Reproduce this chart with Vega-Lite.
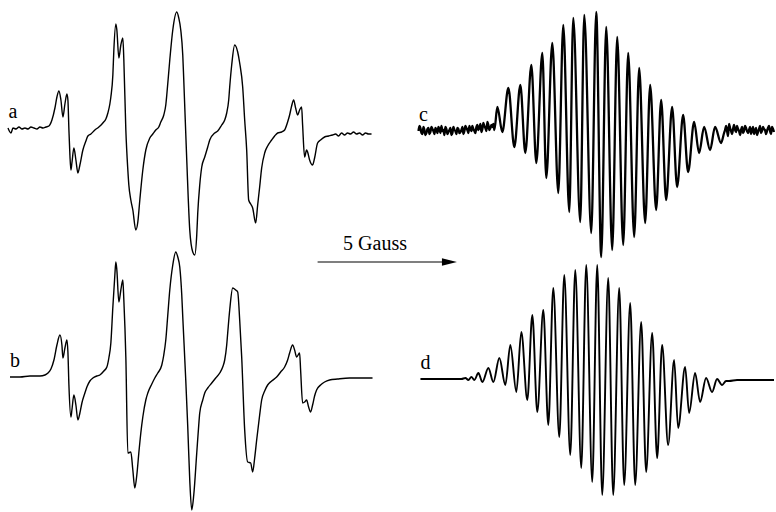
{
  "$schema": "https://vega.github.io/schema/vega-lite/v6.json",
  "width": 776,
  "height": 512,
  "autosize": {"type": "fit", "contains": "padding"},
  "padding": 0,
  "background": "white",
  "config": {"view": {"stroke": null}},
  "datasets": {
    "spectra": [
      {"s":"a","x":8,"y":128},{"s":"a","x":11,"y":133},{"s":"a","x":13,"y":128},{"s":"a","x":16,"y":129},{"s":"a","x":19,"y":127},{"s":"a","x":22,"y":129},{"s":"a","x":25,"y":128},{"s":"a","x":28,"y":129},{"s":"a","x":31,"y":127},{"s":"a","x":34,"y":128},{"s":"a","x":37,"y":129},{"s":"a","x":40,"y":127},{"s":"a","x":43,"y":128},{"s":"a","x":46,"y":127},{"s":"a","x":49,"y":126},{"s":"a","x":52,"y":120},{"s":"a","x":55,"y":108},{"s":"a","x":57,"y":97},{"s":"a","x":59,"y":91},{"s":"a","x":61,"y":100},{"s":"a","x":63,"y":117},{"s":"a","x":65,"y":104},{"s":"a","x":67,"y":94},{"s":"a","x":68,"y":100},{"s":"a","x":69,"y":130},{"s":"a","x":70,"y":155},{"s":"a","x":71,"y":170},{"s":"a","x":72,"y":163},{"s":"a","x":74,"y":148},{"s":"a","x":76,"y":160},{"s":"a","x":78,"y":173},{"s":"a","x":80,"y":165},{"s":"a","x":83,"y":150},{"s":"a","x":86,"y":141},{"s":"a","x":88,"y":136},{"s":"a","x":91,"y":134},{"s":"a","x":95,"y":130},{"s":"a","x":99,"y":127},{"s":"a","x":103,"y":123},{"s":"a","x":106,"y":119},{"s":"a","x":108,"y":113},{"s":"a","x":110,"y":104},{"s":"a","x":111,"y":97},{"s":"a","x":113,"y":75},{"s":"a","x":114,"y":50},{"s":"a","x":116,"y":24},{"s":"a","x":117,"y":30},{"s":"a","x":119,"y":58},{"s":"a","x":121,"y":45},{"s":"a","x":123,"y":38},{"s":"a","x":124,"y":60},{"s":"a","x":126,"y":130},{"s":"a","x":128,"y":170},{"s":"a","x":129,"y":185},{"s":"a","x":131,"y":200},{"s":"a","x":133,"y":210},{"s":"a","x":136,"y":230},{"s":"a","x":138,"y":222},{"s":"a","x":140,"y":200},{"s":"a","x":143,"y":170},{"s":"a","x":146,"y":150},{"s":"a","x":150,"y":138},{"s":"a","x":153,"y":134},{"s":"a","x":156,"y":130},{"s":"a","x":159,"y":127},{"s":"a","x":161,"y":122},{"s":"a","x":164,"y":115},{"s":"a","x":166,"y":105},{"s":"a","x":167,"y":95},{"s":"a","x":170,"y":60},{"s":"a","x":173,"y":30},{"s":"a","x":177,"y":12},{"s":"a","x":179,"y":18},{"s":"a","x":181,"y":30},{"s":"a","x":183,"y":55},{"s":"a","x":184,"y":80},{"s":"a","x":187,"y":160},{"s":"a","x":190,"y":230},{"s":"a","x":193,"y":252},{"s":"a","x":195,"y":255},{"s":"a","x":197,"y":235},{"s":"a","x":198,"y":213},{"s":"a","x":200,"y":185},{"s":"a","x":202,"y":167},{"s":"a","x":205,"y":157},{"s":"a","x":208,"y":147},{"s":"a","x":210,"y":140},{"s":"a","x":215,"y":133},{"s":"a","x":218,"y":131},{"s":"a","x":222,"y":125},{"s":"a","x":225,"y":120},{"s":"a","x":227,"y":113},{"s":"a","x":229,"y":100},{"s":"a","x":230,"y":87},{"s":"a","x":232,"y":65},{"s":"a","x":235,"y":45},{"s":"a","x":238,"y":52},{"s":"a","x":240,"y":63},{"s":"a","x":243,"y":87},{"s":"a","x":245,"y":120},{"s":"a","x":247,"y":150},{"s":"a","x":249,"y":200},{"s":"a","x":251,"y":204},{"s":"a","x":253,"y":208},{"s":"a","x":256,"y":223},{"s":"a","x":258,"y":205},{"s":"a","x":260,"y":187},{"s":"a","x":262,"y":168},{"s":"a","x":265,"y":153},{"s":"a","x":268,"y":146},{"s":"a","x":272,"y":140},{"s":"a","x":275,"y":136},{"s":"a","x":278,"y":133},{"s":"a","x":282,"y":132},{"s":"a","x":285,"y":130},{"s":"a","x":288,"y":122},{"s":"a","x":290,"y":115},{"s":"a","x":292,"y":106},{"s":"a","x":294,"y":100},{"s":"a","x":296,"y":108},{"s":"a","x":298,"y":115},{"s":"a","x":300,"y":110},{"s":"a","x":302,"y":107},{"s":"a","x":303,"y":125},{"s":"a","x":305,"y":157},{"s":"a","x":307,"y":150},{"s":"a","x":308,"y":152},{"s":"a","x":310,"y":160},{"s":"a","x":313,"y":165},{"s":"a","x":315,"y":158},{"s":"a","x":318,"y":143},{"s":"a","x":321,"y":140},{"s":"a","x":325,"y":137},{"s":"a","x":329,"y":136},{"s":"a","x":333,"y":135},{"s":"a","x":336,"y":134},{"s":"a","x":339,"y":136},{"s":"a","x":342,"y":133},{"s":"a","x":345,"y":135},{"s":"a","x":348,"y":133},{"s":"a","x":351,"y":134},{"s":"a","x":354,"y":132},{"s":"a","x":357,"y":134},{"s":"a","x":360,"y":133},{"s":"a","x":363,"y":135},{"s":"a","x":366,"y":133},{"s":"a","x":369,"y":134},{"s":"a","x":372,"y":134},

      {"s":"b","x":10,"y":377},{"s":"b","x":20,"y":377},{"s":"b","x":30,"y":376},{"s":"b","x":40,"y":376},{"s":"b","x":45,"y":375},{"s":"b","x":48,"y":373},{"s":"b","x":51,"y":369},{"s":"b","x":54,"y":360},{"s":"b","x":57,"y":345},{"s":"b","x":60,"y":335},{"s":"b","x":62,"y":345},{"s":"b","x":63,"y":358},{"s":"b","x":65,"y":348},{"s":"b","x":67,"y":340},{"s":"b","x":68,"y":352},{"s":"b","x":69,"y":385},{"s":"b","x":71,"y":417},{"s":"b","x":72,"y":410},{"s":"b","x":74,"y":395},{"s":"b","x":76,"y":405},{"s":"b","x":78,"y":420},{"s":"b","x":80,"y":413},{"s":"b","x":82,"y":403},{"s":"b","x":85,"y":393},{"s":"b","x":87,"y":387},{"s":"b","x":90,"y":381},{"s":"b","x":93,"y":378},{"s":"b","x":97,"y":376},{"s":"b","x":100,"y":375},{"s":"b","x":104,"y":371},{"s":"b","x":107,"y":367},{"s":"b","x":109,"y":358},{"s":"b","x":111,"y":343},{"s":"b","x":113,"y":307},{"s":"b","x":115,"y":275},{"s":"b","x":116,"y":262},{"s":"b","x":117,"y":270},{"s":"b","x":119,"y":302},{"s":"b","x":121,"y":290},{"s":"b","x":123,"y":280},{"s":"b","x":124,"y":300},{"s":"b","x":126,"y":357},{"s":"b","x":128,"y":453},{"s":"b","x":131,"y":452},{"s":"b","x":133,"y":470},{"s":"b","x":135,"y":488},{"s":"b","x":137,"y":475},{"s":"b","x":139,"y":453},{"s":"b","x":141,"y":433},{"s":"b","x":143,"y":417},{"s":"b","x":146,"y":400},{"s":"b","x":148,"y":393},{"s":"b","x":152,"y":384},{"s":"b","x":155,"y":378},{"s":"b","x":158,"y":373},{"s":"b","x":162,"y":365},{"s":"b","x":164,"y":355},{"s":"b","x":166,"y":340},{"s":"b","x":168,"y":315},{"s":"b","x":170,"y":290},{"s":"b","x":173,"y":265},{"s":"b","x":176,"y":252},{"s":"b","x":178,"y":257},{"s":"b","x":180,"y":267},{"s":"b","x":182,"y":295},{"s":"b","x":183,"y":317},{"s":"b","x":186,"y":380},{"s":"b","x":188,"y":427},{"s":"b","x":190,"y":480},{"s":"b","x":192,"y":510},{"s":"b","x":194,"y":495},{"s":"b","x":197,"y":453},{"s":"b","x":199,"y":425},{"s":"b","x":200,"y":413},{"s":"b","x":203,"y":400},{"s":"b","x":205,"y":393},{"s":"b","x":208,"y":388},{"s":"b","x":212,"y":383},{"s":"b","x":216,"y":378},{"s":"b","x":220,"y":373},{"s":"b","x":223,"y":367},{"s":"b","x":225,"y":360},{"s":"b","x":227,"y":345},{"s":"b","x":228,"y":333},{"s":"b","x":230,"y":310},{"s":"b","x":233,"y":288},{"s":"b","x":236,"y":290},{"s":"b","x":238,"y":292},{"s":"b","x":240,"y":320},{"s":"b","x":242,"y":357},{"s":"b","x":245,"y":430},{"s":"b","x":248,"y":462},{"s":"b","x":251,"y":463},{"s":"b","x":253,"y":472},{"s":"b","x":255,"y":458},{"s":"b","x":257,"y":440},{"s":"b","x":260,"y":415},{"s":"b","x":262,"y":400},{"s":"b","x":265,"y":391},{"s":"b","x":268,"y":385},{"s":"b","x":272,"y":381},{"s":"b","x":277,"y":377},{"s":"b","x":281,"y":372},{"s":"b","x":285,"y":367},{"s":"b","x":288,"y":360},{"s":"b","x":290,"y":353},{"s":"b","x":293,"y":345},{"s":"b","x":295,"y":350},{"s":"b","x":297,"y":357},{"s":"b","x":300,"y":353},{"s":"b","x":301,"y":370},{"s":"b","x":303,"y":403},{"s":"b","x":305,"y":402},{"s":"b","x":307,"y":400},{"s":"b","x":309,"y":407},{"s":"b","x":311,"y":412},{"s":"b","x":313,"y":405},{"s":"b","x":315,"y":396},{"s":"b","x":317,"y":390},{"s":"b","x":321,"y":385},{"s":"b","x":325,"y":382},{"s":"b","x":330,"y":380},{"s":"b","x":338,"y":379},{"s":"b","x":350,"y":378},{"s":"b","x":360,"y":378},{"s":"b","x":373,"y":378},

      {"s":"c","x":419,"y":131},{"s":"c","x":420,"y":126},{"s":"c","x":421,"y":128},{"s":"c","x":422,"y":133},{"s":"c","x":423,"y":134},{"s":"c","x":424,"y":127},{"s":"c","x":425,"y":130},{"s":"c","x":426,"y":135},{"s":"c","x":427,"y":133},{"s":"c","x":428,"y":129},{"s":"c","x":429,"y":128},{"s":"c","x":430,"y":134},{"s":"c","x":431,"y":132},{"s":"c","x":432,"y":127},{"s":"c","x":433,"y":129},{"s":"c","x":434,"y":131},{"s":"c","x":435,"y":134},{"s":"c","x":436,"y":128},{"s":"c","x":437,"y":130},{"s":"c","x":438,"y":133},{"s":"c","x":439,"y":127},{"s":"c","x":440,"y":129},{"s":"c","x":441,"y":133},{"s":"c","x":442,"y":126},{"s":"c","x":443,"y":131},{"s":"c","x":444,"y":130},{"s":"c","x":445,"y":135},{"s":"c","x":446,"y":127},{"s":"c","x":447,"y":129},{"s":"c","x":448,"y":134},{"s":"c","x":449,"y":132},{"s":"c","x":450,"y":130},{"s":"c","x":451,"y":128},{"s":"c","x":452,"y":135},{"s":"c","x":453,"y":133},{"s":"c","x":454,"y":127},{"s":"c","x":455,"y":130},{"s":"c","x":456,"y":131},{"s":"c","x":457,"y":134},{"s":"c","x":458,"y":128},{"s":"c","x":459,"y":129},{"s":"c","x":460,"y":133},{"s":"c","x":461,"y":132},{"s":"c","x":462,"y":130},{"s":"c","x":463,"y":127},{"s":"c","x":464,"y":134},{"s":"c","x":465,"y":131},{"s":"c","x":466,"y":126},{"s":"c","x":467,"y":128},{"s":"c","x":468,"y":130},{"s":"c","x":469,"y":133},{"s":"c","x":470,"y":126},{"s":"c","x":471,"y":129},{"s":"c","x":472,"y":131},{"s":"c","x":473,"y":126},{"s":"c","x":474,"y":129},{"s":"c","x":475,"y":131},{"s":"c","x":476,"y":133},{"s":"c","x":477,"y":127},{"s":"c","x":478,"y":125},{"s":"c","x":479,"y":130},{"s":"c","x":480,"y":128},{"s":"c","x":481,"y":124},{"s":"c","x":482,"y":132},{"s":"c","x":483,"y":129},{"s":"c","x":484,"y":123},{"s":"c","x":485,"y":126},{"s":"c","x":486,"y":128},{"s":"c","x":487,"y":131},{"s":"c","x":488,"y":122},{"s":"c","x":489,"y":125},{"s":"c","x":490,"y":130},{"s":"c","x":491,"y":128},{"s":"c","x":492,"y":125},{"s":"c","x":493,"y":127},{"s":"c","x":494,"y":124},{"s":"c","x":495,"y":130},{"s":"c","x":498,"y":107},{"s":"c","x":503,"y":132},{"s":"c","x":509,"y":88},{"s":"c","x":515,"y":147},{"s":"c","x":521,"y":85},{"s":"c","x":526,"y":153},{"s":"c","x":532,"y":65},{"s":"c","x":537,"y":163},{"s":"c","x":543,"y":53},{"s":"c","x":547,"y":178},{"s":"c","x":553,"y":43},{"s":"c","x":559,"y":193},{"s":"c","x":564,"y":25},{"s":"c","x":570,"y":212},{"s":"c","x":574,"y":18},{"s":"c","x":581,"y":222},{"s":"c","x":585,"y":15},{"s":"c","x":592,"y":233},{"s":"c","x":597,"y":12},{"s":"c","x":602,"y":257},{"s":"c","x":607,"y":27},{"s":"c","x":613,"y":250},{"s":"c","x":618,"y":37},{"s":"c","x":624,"y":245},{"s":"c","x":629,"y":53},{"s":"c","x":635,"y":237},{"s":"c","x":640,"y":68},{"s":"c","x":646,"y":223},{"s":"c","x":651,"y":85},{"s":"c","x":657,"y":210},{"s":"c","x":662,"y":100},{"s":"c","x":667,"y":200},{"s":"c","x":673,"y":107},{"s":"c","x":678,"y":187},{"s":"c","x":684,"y":115},{"s":"c","x":689,"y":172},{"s":"c","x":695,"y":122},{"s":"c","x":700,"y":153},{"s":"c","x":705,"y":127},{"s":"c","x":711,"y":150},{"s":"c","x":716,"y":127},{"s":"c","x":722,"y":143},{"s":"c","x":725,"y":133},{"s":"c","x":726,"y":130},{"s":"c","x":727,"y":126},{"s":"c","x":728,"y":131},{"s":"c","x":729,"y":136},{"s":"c","x":730,"y":124},{"s":"c","x":731,"y":128},{"s":"c","x":732,"y":131},{"s":"c","x":733,"y":134},{"s":"c","x":734,"y":129},{"s":"c","x":735,"y":125},{"s":"c","x":736,"y":130},{"s":"c","x":737,"y":132},{"s":"c","x":738,"y":126},{"s":"c","x":739,"y":129},{"s":"c","x":740,"y":131},{"s":"c","x":741,"y":135},{"s":"c","x":742,"y":130},{"s":"c","x":743,"y":127},{"s":"c","x":744,"y":133},{"s":"c","x":745,"y":131},{"s":"c","x":746,"y":126},{"s":"c","x":747,"y":128},{"s":"c","x":748,"y":131},{"s":"c","x":749,"y":133},{"s":"c","x":750,"y":130},{"s":"c","x":751,"y":127},{"s":"c","x":752,"y":134},{"s":"c","x":753,"y":130},{"s":"c","x":754,"y":127},{"s":"c","x":755,"y":134},{"s":"c","x":756,"y":131},{"s":"c","x":757,"y":128},{"s":"c","x":758,"y":135},{"s":"c","x":759,"y":132},{"s":"c","x":760,"y":129},{"s":"c","x":761,"y":126},{"s":"c","x":762,"y":133},{"s":"c","x":763,"y":131},{"s":"c","x":764,"y":127},{"s":"c","x":765,"y":129},{"s":"c","x":766,"y":130},{"s":"c","x":767,"y":134},{"s":"c","x":768,"y":131},{"s":"c","x":769,"y":128},{"s":"c","x":770,"y":126},{"s":"c","x":771,"y":131},{"s":"c","x":772,"y":134},{"s":"c","x":773,"y":127},{"s":"c","x":774,"y":129},{"s":"c","x":775,"y":132},

      {"s":"d","x":421,"y":379},{"s":"d","x":440,"y":379},{"s":"d","x":462,"y":379},{"s":"d","x":466,"y":378},{"s":"d","x":469,"y":380},{"s":"d","x":472,"y":377},{"s":"d","x":475,"y":380},{"s":"d","x":479,"y":373},{"s":"d","x":483,"y":382},{"s":"d","x":489,"y":368},{"s":"d","x":494,"y":382},{"s":"d","x":500,"y":358},{"s":"d","x":506,"y":385},{"s":"d","x":511,"y":345},{"s":"d","x":517,"y":392},{"s":"d","x":522,"y":332},{"s":"d","x":528,"y":400},{"s":"d","x":533,"y":315},{"s":"d","x":538,"y":412},{"s":"d","x":544,"y":310},{"s":"d","x":549,"y":425},{"s":"d","x":554,"y":288},{"s":"d","x":560,"y":437},{"s":"d","x":565,"y":275},{"s":"d","x":571,"y":455},{"s":"d","x":576,"y":270},{"s":"d","x":582,"y":468},{"s":"d","x":587,"y":265},{"s":"d","x":593,"y":482},{"s":"d","x":598,"y":265},{"s":"d","x":603,"y":495},{"s":"d","x":609,"y":278},{"s":"d","x":614,"y":495},{"s":"d","x":620,"y":288},{"s":"d","x":625,"y":485},{"s":"d","x":631,"y":303},{"s":"d","x":636,"y":485},{"s":"d","x":642,"y":322},{"s":"d","x":647,"y":472},{"s":"d","x":653,"y":333},{"s":"d","x":658,"y":458},{"s":"d","x":663,"y":345},{"s":"d","x":669,"y":445},{"s":"d","x":675,"y":360},{"s":"d","x":679,"y":428},{"s":"d","x":686,"y":367},{"s":"d","x":690,"y":413},{"s":"d","x":696,"y":373},{"s":"d","x":701,"y":402},{"s":"d","x":707,"y":378},{"s":"d","x":713,"y":392},{"s":"d","x":718,"y":379},{"s":"d","x":723,"y":385},{"s":"d","x":727,"y":381},{"s":"d","x":730,"y":381},{"s":"d","x":738,"y":380},{"s":"d","x":775,"y":380}
    ],
    "bar": [
      {"x": 318, "x2": 450, "y": 262, "label": "5 Gauss"}
    ]
  },
  "encoding": {
    "x": {"field": "x", "type": "quantitative", "scale": {"domain": [0, 776], "nice": false, "zero": false}, "axis": null},
    "y": {"field": "y", "type": "quantitative", "scale": {"domain": [0, 512], "reverse": true, "nice": false, "zero": false}, "axis": null}
  },
  "layer": [
    {
      "data": {"name": "spectra"},
      "transform": [{"filter": "datum.s == 'a' || datum.s == 'b'"}],
      "mark": {"type": "line", "interpolate": "monotone", "color": "black", "strokeWidth": 1.4, "strokeJoin": "round"},
      "encoding": {"detail": {"field": "s", "type": "nominal"}}
    },
    {
      "data": {"name": "spectra"},
      "transform": [{"filter": "datum.s == 'c'"}],
      "mark": {"type": "line", "interpolate": "monotone", "color": "black", "strokeWidth": 2.3, "strokeJoin": "round"},
      "encoding": {"detail": {"field": "s", "type": "nominal"}}
    },
    {
      "data": {"name": "spectra"},
      "transform": [{"filter": "datum.s == 'd'"}],
      "mark": {"type": "line", "interpolate": "monotone", "color": "black", "strokeWidth": 1.9, "strokeJoin": "round"},
      "encoding": {"detail": {"field": "s", "type": "nominal"}}
    },
    {
      "data": {"name": "spectra"},
      "transform": [
        {"joinaggregate": [{"op": "min", "field": "x", "as": "mx"}], "groupby": ["s"]},
        {"filter": "datum.x == datum.mx"}
      ],
      "mark": {"type": "text", "font": "Liberation Serif", "fontSize": 20, "color": "black", "align": "center", "baseline": "alphabetic", "dx": 5, "dy": -10},
      "encoding": {"text": {"field": "s", "type": "nominal"}}
    },
    {
      "data": {"name": "bar"},
      "mark": {"type": "rule", "color": "black", "strokeWidth": 1.2},
      "encoding": {"x2": {"field": "x2"}}
    },
    {
      "data": {"name": "bar"},
      "mark": {"type": "point", "shape": "M -1 -0.5 L 1 0 L -1 0.5 Z", "filled": true, "size": 225, "color": "black", "opacity": 1},
      "encoding": {"x": {"field": "x2", "type": "quantitative"}}
    },
    {
      "data": {"name": "bar"},
      "transform": [{"calculate": "(datum.x + datum.x2 - 17) / 2", "as": "xm"}],
      "mark": {"type": "text", "font": "Liberation Serif", "fontSize": 20, "color": "black", "align": "center", "baseline": "alphabetic", "dy": -12},
      "encoding": {"x": {"field": "xm", "type": "quantitative"}, "text": {"field": "label", "type": "nominal"}}
    }
  ]
}
